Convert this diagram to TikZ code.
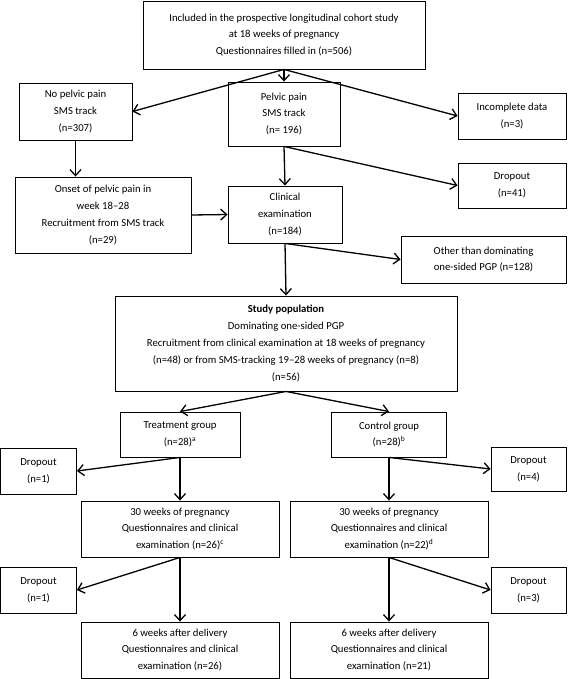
\documentclass[tikz,border=0pt]{standalone}
\usepackage{fontspec}
\setmainfont{Carlito}
\usetikzlibrary{arrows.meta}

\begin{document}
\begin{tikzpicture}[x=1pt,y=-1pt,
  box/.style={draw,line width=0.9pt,align=center,inner sep=0pt,
    font=\fontsize{10.7}{16.8}\selectfont},
  arr/.style={-{Straight Barb[length=6pt,width=11pt]},line width=1.3pt}]
	%\draw[help lines] (0,0) grid[step=50] (567,679);
	\useasboundingbox (0,0) rectangle (567,679);
	%BOXES
	\node[box,minimum width=282,minimum height=68] (incl) at (284,35)
	  {Included in the prospective longitudinal cohort study\\at 18 weeks of pregnancy\\Questionnaires filled in (n=506)};
	\node[box,minimum width=113,minimum height=57] (nopain) at (75.5,111.5)
	  {No pelvic pain\\SMS track\\(n=307)};
	\node[box,minimum width=112,minimum height=64] (pain) at (284,114)
	  {Pelvic pain\\SMS track\\(n= 196)};
	\node[box,minimum width=108,minimum height=46] (incompl) at (512,116)
	  {Incomplete data\\(n=3)};
	\node[box,minimum width=108,minimum height=45] (dropA) at (512,185.5)
	  {Dropout\\(n=41)};
	\node[box,minimum width=176,minimum height=76] (onset) at (103,215)
	  {Onset of pelvic pain in\\week 18--28\\Recruitment from SMS track\\(n=29)};
	\node[box,minimum width=114,minimum height=57] (clin) at (285,214.5)
	  {Clinical\\examination\\(n=184)};
	\node[box,minimum width=165,minimum height=47] (other) at (483.5,259.5)
	  {Other than dominating\\one-sided PGP (n=128)};
	\node[box,minimum width=342,minimum height=95] (study) at (286,343.5)
	  {\textbf{Study population}\\Dominating one-sided PGP\\Recruitment from clinical examination at 18 weeks of pregnancy\\(n=48) or from SMS-tracking 19--28 weeks of pregnancy (n=8)\\(n=56)};
	\node[box,minimum width=120,minimum height=45] (treat) at (180,434.5)
	  {Treatment group\\(n=28)\textsuperscript{a}};
	\node[box,minimum width=115,minimum height=45] (ctrl) at (389,434.5)
	  {Control group\\(n=28)\textsuperscript{b}};
	\node[box,minimum width=76,minimum height=46] (dropB) at (38.5,471)
	  {Dropout\\(n=1)};
	\node[box,minimum width=75,minimum height=44] (dropC) at (528.5,469)
	  {Dropout\\(n=4)};
	\node[box,minimum width=198,minimum height=56] (tr30) at (180,529)
	  {30 weeks of pregnancy\\Questionnaires and clinical\\examination (n=26)\textsuperscript{c}};
	\node[box,minimum width=198,minimum height=56] (co30) at (389,529)
	  {30 weeks of pregnancy\\Questionnaires and clinical\\examination (n=22)\textsuperscript{d}};
	\node[box,minimum width=76,minimum height=46] (dropD) at (38.5,590)
	  {Dropout\\(n=1)};
	\node[box,minimum width=75,minimum height=46] (dropE) at (528.5,590)
	  {Dropout\\(n=3)};
	\node[box,minimum width=198,minimum height=56] (tr6) at (180,650)
	  {6 weeks after delivery\\Questionnaires and clinical\\examination (n=26)};
	\node[box,minimum width=198,minimum height=56] (co6) at (389,650)
	  {6 weeks after delivery\\Questionnaires and clinical\\examination (n=21)};
	%ARROWS
	\draw[arr] (incl.south) -- (nopain.east);
	\draw[arr] (incl.south) -- (pain.north);
	\draw[arr] (incl.south) -- (incompl.west);
	\draw[arr] (nopain.south) -- (nopain.south |- onset.north);
	\draw[arr] (pain.south) -- (clin.north);
	\draw[arr] (pain.south) -- (dropA.west);
	\draw[arr] (onset.east) -- (clin.west);
	\draw[arr] (clin.south) -- (study.north);
	\draw[arr] (clin.south) -- (other.west);
	\draw[arr] (study.south) -- (treat.north);
	\draw[arr] (study.south) -- (ctrl.north);
	\draw[arr] (treat.south) -- (tr30.north);
	\draw[arr] (treat.south) -- (dropB.east);
	\draw[arr] (ctrl.south) -- (co30.north);
	\draw[arr] (ctrl.south) -- (dropC.west);
	\draw[arr] (tr30.south) -- (tr6.north);
	\draw[arr] (tr30.south) -- (dropD.east);
	\draw[arr] (co30.south) -- (co6.north);
	\draw[arr] (co30.south) -- (dropE.west);
\end{tikzpicture}
\end{document}
